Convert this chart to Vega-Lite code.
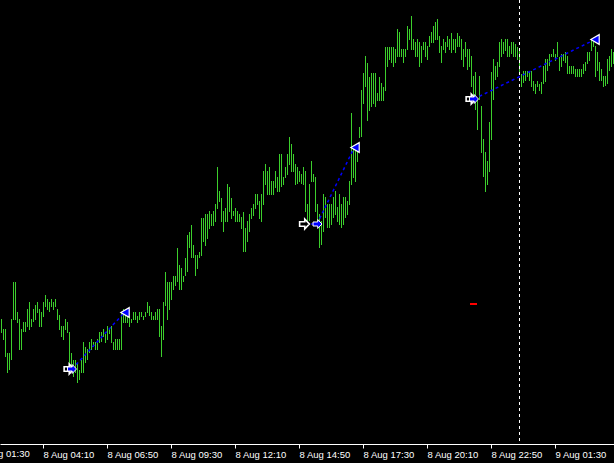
{
"$schema": "https://vega.github.io/schema/vega-lite/v6.json",
"width": 614, "height": 444,
"autosize": {"type": "none"},
"padding": {"left": 0, "top": 0, "right": 0, "bottom": 19},
"background": "#000000",
"config": {"view": {"stroke": null}, "axis": {"grid": false}},
"datasets": {
"bars": [
{"i":0,"a":319,"b":333},{"i":1,"a":329,"b":340},{"i":2,"a":329,"b":357},{"i":3,"a":353,"b":373},{"i":4,"a":353,"b":370},{"i":5,"a":319,"b":360},{"i":6,"a":282,"b":320},{"i":7,"a":282,"b":320},{"i":8,"a":312,"b":323},{"i":9,"a":319,"b":350},
{"i":10,"a":329,"b":350},{"i":11,"a":322,"b":332},{"i":12,"a":322,"b":332},{"i":13,"a":309,"b":327},{"i":14,"a":302,"b":330},{"i":15,"a":319,"b":327},{"i":16,"a":309,"b":322},{"i":17,"a":305,"b":320},{"i":18,"a":302,"b":313},{"i":19,"a":309,"b":327},
{"i":20,"a":312,"b":327},{"i":21,"a":302,"b":317},{"i":22,"a":295,"b":307},{"i":23,"a":299,"b":310},{"i":24,"a":302,"b":312},{"i":25,"a":299,"b":307},{"i":26,"a":302,"b":310},{"i":27,"a":299,"b":307},{"i":28,"a":309,"b":320},{"i":29,"a":315,"b":330},
{"i":30,"a":326,"b":337},{"i":31,"a":326,"b":340},{"i":32,"a":319,"b":330},{"i":33,"a":322,"b":333},{"i":34,"a":332,"b":367},{"i":35,"a":353,"b":367},{"i":36,"a":360,"b":377},{"i":37,"a":360,"b":373},{"i":38,"a":363,"b":383},{"i":39,"a":370,"b":380},
{"i":40,"a":360,"b":373},{"i":41,"a":342,"b":373},{"i":42,"a":347,"b":363},{"i":43,"a":349,"b":360},{"i":44,"a":342,"b":353},{"i":45,"a":339,"b":350},{"i":46,"a":342,"b":347},{"i":47,"a":342,"b":350},{"i":48,"a":339,"b":350},{"i":49,"a":332,"b":343},
{"i":50,"a":332,"b":342},{"i":51,"a":329,"b":337},{"i":52,"a":334,"b":343},{"i":53,"a":326,"b":340},{"i":54,"a":329,"b":334},{"i":55,"a":326,"b":343},{"i":56,"a":342,"b":350},{"i":57,"a":339,"b":350},{"i":58,"a":339,"b":350},{"i":59,"a":339,"b":350},
{"i":60,"a":312,"b":350},{"i":61,"a":309,"b":323},{"i":62,"a":312,"b":323},{"i":63,"a":316,"b":323},{"i":64,"a":316,"b":327},{"i":65,"a":319,"b":323},{"i":66,"a":312,"b":320},{"i":67,"a":312,"b":320},{"i":68,"a":316,"b":323},{"i":69,"a":312,"b":320},
{"i":70,"a":312,"b":317},{"i":71,"a":316,"b":320},{"i":72,"a":312,"b":317},{"i":73,"a":302,"b":313},{"i":74,"a":306,"b":316},{"i":75,"a":312,"b":320},{"i":76,"a":316,"b":320},{"i":77,"a":312,"b":320},{"i":78,"a":309,"b":320},{"i":79,"a":309,"b":337},
{"i":80,"a":326,"b":357},{"i":81,"a":302,"b":340},{"i":82,"a":272,"b":306},{"i":83,"a":282,"b":320},{"i":84,"a":282,"b":310},{"i":85,"a":282,"b":300},{"i":86,"a":276,"b":290},{"i":87,"a":276,"b":286},{"i":88,"a":248,"b":282},{"i":89,"a":265,"b":290},
{"i":90,"a":268,"b":290},{"i":91,"a":276,"b":282},{"i":92,"a":258,"b":276},{"i":93,"a":235,"b":272},{"i":94,"a":232,"b":248},{"i":95,"a":225,"b":258},{"i":96,"a":245,"b":258},{"i":97,"a":255,"b":276},{"i":98,"a":255,"b":269},{"i":99,"a":252,"b":258},
{"i":100,"a":218,"b":256},{"i":101,"a":218,"b":242},{"i":102,"a":214,"b":246},{"i":103,"a":214,"b":239},{"i":104,"a":211,"b":229},{"i":105,"a":214,"b":226},{"i":106,"a":211,"b":226},{"i":107,"a":204,"b":222},{"i":108,"a":167,"b":209},{"i":109,"a":191,"b":202},
{"i":110,"a":198,"b":222},{"i":111,"a":211,"b":232},{"i":112,"a":208,"b":222},{"i":113,"a":184,"b":222},{"i":114,"a":187,"b":212},{"i":115,"a":198,"b":219},{"i":116,"a":211,"b":216},{"i":117,"a":208,"b":222},{"i":118,"a":211,"b":222},{"i":119,"a":214,"b":222},
{"i":120,"a":217,"b":229},{"i":121,"a":212,"b":252},{"i":122,"a":228,"b":252},{"i":123,"a":221,"b":242},{"i":124,"a":214,"b":232},{"i":125,"a":208,"b":219},{"i":126,"a":204,"b":216},{"i":127,"a":194,"b":209},{"i":128,"a":194,"b":205},{"i":129,"a":201,"b":219},
{"i":130,"a":194,"b":222},{"i":131,"a":171,"b":205},{"i":132,"a":164,"b":185},{"i":133,"a":171,"b":195},{"i":134,"a":167,"b":195},{"i":135,"a":181,"b":195},{"i":136,"a":181,"b":195},{"i":137,"a":171,"b":188},{"i":138,"a":177,"b":192},{"i":139,"a":154,"b":192},
{"i":140,"a":154,"b":187},{"i":141,"a":177,"b":185},{"i":142,"a":167,"b":178},{"i":143,"a":154,"b":175},{"i":144,"a":137,"b":165},{"i":145,"a":144,"b":172},{"i":146,"a":154,"b":172},{"i":147,"a":164,"b":185},{"i":148,"a":167,"b":184},{"i":149,"a":171,"b":182},
{"i":150,"a":174,"b":184},{"i":151,"a":167,"b":185},{"i":152,"a":171,"b":212},{"i":153,"a":204,"b":221},{"i":154,"a":184,"b":221},{"i":155,"a":161,"b":182},{"i":156,"a":174,"b":182},{"i":157,"a":177,"b":212},{"i":158,"a":204,"b":221},{"i":159,"a":214,"b":248},
{"i":160,"a":221,"b":245},{"i":161,"a":194,"b":232},{"i":162,"a":197,"b":218},{"i":163,"a":204,"b":228},{"i":164,"a":204,"b":228},{"i":165,"a":204,"b":225},{"i":166,"a":197,"b":218},{"i":167,"a":191,"b":215},{"i":168,"a":207,"b":222},{"i":169,"a":194,"b":225},
{"i":170,"a":204,"b":228},{"i":171,"a":197,"b":225},{"i":172,"a":197,"b":218},{"i":173,"a":201,"b":215},{"i":174,"a":181,"b":205},{"i":175,"a":113,"b":185},{"i":176,"a":147,"b":178},{"i":177,"a":151,"b":182},{"i":178,"a":144,"b":162},{"i":179,"a":127,"b":138},
{"i":180,"a":90,"b":137},{"i":181,"a":73,"b":104},{"i":182,"a":56,"b":87},{"i":183,"a":63,"b":121},{"i":184,"a":77,"b":111},{"i":185,"a":73,"b":107},{"i":186,"a":73,"b":104},{"i":187,"a":73,"b":107},{"i":188,"a":93,"b":101},{"i":189,"a":77,"b":101},
{"i":190,"a":83,"b":101},{"i":191,"a":87,"b":101},{"i":192,"a":47,"b":91},{"i":193,"a":47,"b":67},{"i":194,"a":47,"b":60},{"i":195,"a":47,"b":63},{"i":196,"a":47,"b":67},{"i":197,"a":49,"b":63},{"i":198,"a":29,"b":57},{"i":199,"a":32,"b":57},
{"i":200,"a":49,"b":57},{"i":201,"a":49,"b":63},{"i":202,"a":49,"b":57},{"i":203,"a":26,"b":50},{"i":204,"a":29,"b":40},{"i":205,"a":16,"b":50},{"i":206,"a":39,"b":50},{"i":207,"a":42,"b":57},{"i":208,"a":39,"b":57},{"i":209,"a":42,"b":67},
{"i":210,"a":46,"b":63},{"i":211,"a":42,"b":50},{"i":212,"a":42,"b":57},{"i":213,"a":46,"b":60},{"i":214,"a":36,"b":47},{"i":215,"a":32,"b":43},{"i":216,"a":26,"b":43},{"i":217,"a":22,"b":40},{"i":218,"a":19,"b":40},{"i":219,"a":36,"b":53},
{"i":220,"a":46,"b":63},{"i":221,"a":39,"b":50},{"i":222,"a":42,"b":53},{"i":223,"a":36,"b":47},{"i":224,"a":39,"b":50},{"i":225,"a":33,"b":53},{"i":226,"a":39,"b":50},{"i":227,"a":39,"b":53},{"i":228,"a":33,"b":47},{"i":229,"a":36,"b":47},
{"i":230,"a":39,"b":60},{"i":231,"a":49,"b":67},{"i":232,"a":42,"b":57},{"i":233,"a":49,"b":70},{"i":234,"a":49,"b":67},{"i":235,"a":56,"b":87},{"i":236,"a":76,"b":100},{"i":237,"a":72,"b":110},{"i":238,"a":99,"b":130},{"i":239,"a":76,"b":100},
{"i":240,"a":106,"b":153},{"i":241,"a":139,"b":177},{"i":242,"a":152,"b":192},{"i":243,"a":161,"b":185},{"i":244,"a":122,"b":172},{"i":245,"a":72,"b":140},{"i":246,"a":59,"b":100},{"i":247,"a":66,"b":80},{"i":248,"a":62,"b":77},{"i":249,"a":42,"b":67},
{"i":250,"a":39,"b":57},{"i":251,"a":42,"b":54},{"i":252,"a":39,"b":51},{"i":253,"a":39,"b":57},{"i":254,"a":46,"b":57},{"i":255,"a":42,"b":54},{"i":256,"a":42,"b":57},{"i":257,"a":44,"b":57},{"i":258,"a":47,"b":60},{"i":259,"a":51,"b":75},
{"i":260,"a":74,"b":87},{"i":261,"a":71,"b":83},{"i":262,"a":71,"b":81},{"i":263,"a":71,"b":77},{"i":264,"a":71,"b":81},{"i":265,"a":71,"b":87},{"i":266,"a":81,"b":91},{"i":267,"a":84,"b":94},{"i":268,"a":81,"b":87},{"i":269,"a":84,"b":91},
{"i":270,"a":82,"b":94},{"i":271,"a":66,"b":84},{"i":272,"a":59,"b":82},{"i":273,"a":59,"b":71},{"i":274,"a":54,"b":66},{"i":275,"a":54,"b":57},{"i":276,"a":49,"b":57},{"i":277,"a":54,"b":61},{"i":278,"a":42,"b":57},{"i":279,"a":57,"b":71},
{"i":280,"a":54,"b":67},{"i":281,"a":54,"b":61},{"i":282,"a":52,"b":63},{"i":283,"a":56,"b":74},{"i":284,"a":66,"b":74},{"i":285,"a":66,"b":74},{"i":286,"a":66,"b":74},{"i":287,"a":69,"b":77},{"i":288,"a":69,"b":77},{"i":289,"a":69,"b":77},
{"i":290,"a":69,"b":77},{"i":291,"a":64,"b":74},{"i":292,"a":62,"b":71},{"i":293,"a":52,"b":64},{"i":294,"a":52,"b":61},{"i":295,"a":39,"b":51},{"i":296,"a":42,"b":47},{"i":297,"a":46,"b":77},{"i":298,"a":52,"b":71},{"i":299,"a":62,"b":81},
{"i":300,"a":69,"b":81},{"i":301,"a":76,"b":87},{"i":302,"a":76,"b":86},{"i":303,"a":59,"b":84},{"i":304,"a":56,"b":71},{"i":305,"a":49,"b":67},{"i":306,"a":52,"b":64}
],
"trades": [
{"trade":1,"i":35.5,"p":369},{"trade":1,"i":61.5,"p":313},
{"trade":2,"i":152,"p":224},{"trade":2,"i":158,"p":224},{"trade":2,"i":176.5,"p":148},
{"trade":3,"i":236.5,"p":99},{"trade":3,"i":296.5,"p":40}
],
"hollow": [{"i":34,"p":369},{"i":151.75,"p":224},{"i":235,"p":99}],
"opens": [{"i":35.5,"p":369},{"i":158.25,"p":224},{"i":236.5,"p":99}],
"closes": [{"i":62,"p":312.5},{"i":177,"p":147.5},{"i":297,"p":39.5}]
},
"layer": [
{
"data": {"name": "bars"},
"mark": {"type": "rule", "color": "#3ccf2c", "strokeWidth": 1, "xOffset": 0.5},
"encoding": {
"x": {"field": "i", "type": "quantitative",
"scale": {"domain": [-0.5, 306.5], "nice": false, "zero": false},
"axis": {"title": null, "values": [21, 53, 85, 117, 149, 181, 213, 245, 277],
"labelExpr": "utcFormat(utc(2024,7,8,0,145+5*datum.value),'%-d %b %H:%M')",
"domainColor": "#ffffff", "tickColor": "#ffffff", "tickSize": 4, "labelColor": "#ffffff",
"labelFont": "Liberation Sans", "labelFontSize": 9.5, "labelAlign": "left", "labelBaseline": "alphabetic",
"labelPadding": 9, "labelFlush": false, "labelOverlap": false, "labelBound": false}},
"y": {"field": "a", "type": "quantitative", "scale": {"domain": [0, 444], "reverse": true, "nice": false, "zero": false}, "axis": null},
"y2": {"field": "b"}
}
},
{
"data": {"values": [{"i": -11}]},
"mark": {"type": "text", "color": "#ffffff", "font": "Liberation Sans", "fontSize": 9.5, "align": "left", "baseline": "alphabetic", "dy": 13},
"encoding": {"x": {"field": "i", "type": "quantitative"}, "y": {"datum": 444, "type": "quantitative"},
"text": {"value": "8 Aug 01:30"}}
},
{
"data": {"values": [{"i": 259}]},
"mark": {"type": "rule", "color": "#ffffff", "strokeWidth": 1, "strokeDash": [3, 3], "xOffset": 0.5},
"encoding": {"x": {"field": "i", "type": "quantitative"}}
},
{
"data": {"values": [{"i1": 234.5, "i2": 238, "p": 304}]},
"mark": {"type": "rule", "color": "#ff0000", "strokeWidth": 2},
"encoding": {"x": {"field": "i1", "type": "quantitative"}, "x2": {"field": "i2"}, "y": {"field": "p", "type": "quantitative"}}
},
{
"data": {"name": "trades"},
"mark": {"type": "line", "color": "#0000ff", "strokeWidth": 1.5, "strokeDash": [3, 3]},
"encoding": {"x": {"field": "i", "type": "quantitative"}, "y": {"field": "p", "type": "quantitative"}, "detail": {"field": "trade"}}
},
{
"data": {"name": "hollow"},
"mark": {"type": "point", "shape": "M-1,-0.45L0.05,-0.45L0.05,-1L1,0L0.05,1L0.05,0.45L-1,0.45Z", "size": 95, "filled": true, "fill": "#000000", "stroke": "#ffffff", "strokeWidth": 1.6, "opacity": 1},
"encoding": {"x": {"field": "i", "type": "quantitative"}, "y": {"field": "p", "type": "quantitative"}}
},
{
"data": {"name": "opens"},
"mark": {"type": "point", "shape": "M-1,-0.45L0.05,-0.45L0.05,-1L1,0L0.05,1L0.05,0.45L-1,0.45Z", "size": 80, "filled": true, "fill": "#0000ff", "stroke": "#ffffff", "strokeWidth": 1, "opacity": 1},
"encoding": {"x": {"field": "i", "type": "quantitative"}, "y": {"field": "p", "type": "quantitative"}}
},
{
"data": {"name": "closes"},
"mark": {"type": "point", "shape": "triangle-left", "size": 95, "filled": true, "fill": "#0000ff", "stroke": "#ffffff", "strokeWidth": 1.2, "opacity": 1},
"encoding": {"x": {"field": "i", "type": "quantitative"}, "y": {"field": "p", "type": "quantitative"}}
}
]
}
